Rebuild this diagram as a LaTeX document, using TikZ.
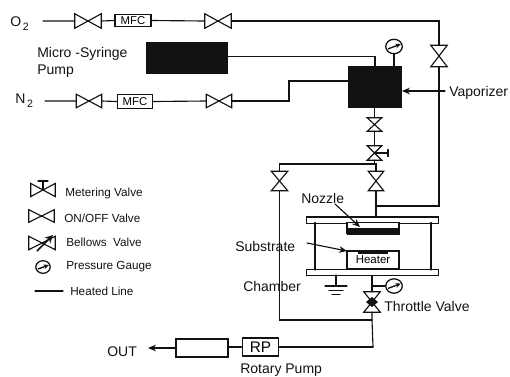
\documentclass[tikz,border=0pt]{standalone}
\usepackage{fontspec}
\setmainfont{Liberation Sans}
\usetikzlibrary{arrows.meta}
\definecolor{ink}{gray}{0.07}
\tikzset{
  line/.style={draw=ink,line width=0.85pt,line cap=round,line join=miter},
  box/.style={draw=ink,line width=0.85pt,fill=white,inner sep=0pt,anchor=center},
  solid box/.style={draw=ink,fill=ink,inner sep=0pt},
  lab/.style={text=ink,inner sep=0pt,anchor=west,font=\fontsize{10.5}{12}\selectfont},
  leg/.style={text=ink,inner sep=0pt,anchor=west,font=\fontsize{8.8}{10}\selectfont},
  tip/.style={-{Stealth[length=6pt,width=5pt]}},
}
% horizontal bow-tie valve: name, x, y, half width, half height
\newcommand{\vh}[5]{\node[inner sep=0pt,minimum width=#4*1.5pt,minimum height=#5*1.5pt] (#1) at (#2,#3) {};
  \draw[line,fill=white] (#1.north west)--(#1.south east)--(#1.north east)--(#1.south west)--cycle;}
% vertical bow-tie valve
\newcommand{\vv}[5]{\node[inner sep=0pt,minimum width=#4*1.5pt,minimum height=#5*1.5pt] (#1) at (#2,#3) {};
  \draw[line,fill=white] (#1.north west)--(#1.north east)--(#1.south west)--(#1.south east)--cycle;}
% gauge: name, x, y, radius
\newcommand{\gauge}[4]{\node[draw=ink,line width=0.95pt,ellipse,fill=white,inner sep=0pt,minimum width=#4*1.55pt,minimum height=#4*1.35pt] (#1) at (#2,#3) {};
  \draw[ink,line width=1pt,-{Stealth[length=4pt,width=3.5pt]}] (#2-#4*0.75,#3+#4*0.3) -- (#2+#4*0.85,#3-#4*0.3);}
\usetikzlibrary{shapes.geometric}
\begin{document}
\begin{tikzpicture}[x=0.75pt,y=-0.75pt]
\useasboundingbox (0,0) rectangle (510,376);
% ---- O2 line
\node[lab,anchor=west] (o2) at (10,23.5) {O\raisebox{-3pt}{\fontsize{8}{9}\selectfont\,2}};
\coordinate (o2s) at (43,21);
\vh{vo1}{88}{21}{13}{7}
\node[box,minimum width=27pt,minimum height=9.5pt,font=\fontsize{8.5}{10}\selectfont] (mfc1) at (133,20.5) {MFC};
\vh{vo2}{218}{21}{13}{7}
\coordinate (o2c) at (439,21);
\vv{vo3}{439}{56}{8}{10.5}
\coordinate (o2d) at (439,206);
\coordinate (noz) at (376,206);
\draw[line] (o2s)--(vo1.west) (vo1.east)--(mfc1.west) (mfc1.east)--(vo2.west);
\draw[line] (vo2.east)--(o2c)--(vo3.north);
\draw[line] (vo3.south)--(o2d)--(noz);
% ---- pump
\node[lab,anchor=west] (mp1) at (37,54) {Micro -Syringe};
\node[lab,anchor=west] (mp2) at (37,71) {Pump};
\node[solid box,minimum width=61pt,minimum height=23pt] (pump) at (187,57.5) {};
\node[solid box,minimum width=40pt,minimum height=30.5pt] (vap) at (375,86.5) {};
\coordinate (pc) at (375,56.5);
\draw[line] (pump.east|-pc)--(pc)--(vap.north);
\gauge{g1}{394}{46.5}{8}
\coordinate (g1b) at (394,66);
\draw[line] (g1.south)--(g1b);
% ---- N2 line
\node[lab,anchor=west] (n2) at (15,101) {N\raisebox{-3pt}{\fontsize{8}{9}\selectfont\,2}};
\coordinate (n2s) at (45,101);
\vh{vn1}{89}{101}{12.5}{6.5}
\node[box,minimum width=26pt,minimum height=10.5pt,font=\fontsize{8.5}{10}\selectfont] (mfc2) at (135,101.5) {MFC};
\vh{vn2}{219}{101}{12.5}{6.5}
\coordinate (n2a) at (289,101);
\coordinate (n2b) at (289,81);
\coordinate (n2c) at (348,81);
\draw[line] (n2s)--(vn1.west) (vn1.east)--(mfc2.west) (mfc2.east)--(vn2.west);
\draw[line] (vn2.east)--(n2a)--(n2b)--(n2c);
% ---- vaporizer label
\node[lab,anchor=west] (vlab) at (449,93) {Vaporizer};
\coordinate (varr) at (445,91);
\draw[line,tip] (varr) -- (vap.east|-varr);
% ---- column
\vv{v1}{374.5}{124.5}{7}{6.5}
\vv{v2}{374.5}{153}{7}{7}
\coordinate (v2t) at (388,153);
\draw[line] (v2.center)--(v2t);
\draw[line] (388,149.5)--(388,156.5);
\coordinate (j1) at (374.5,164);
\coordinate (j1a) at (376,164);
\coordinate (j1l) at (279.5,164);
\vv{v3}{376}{181}{7.5}{9.5}
\vv{v4}{279.5}{181}{8}{9.5}
\draw[line] (vap.south-|v1)--(v1.north);
\draw[line] (v1.south)--(v2.north);
\draw[line] (v2.south)--(j1)--(j1a)--(v3.north);
\draw[line] (j1)--(j1l)--(v4.north);
% ---- chamber
\node[box,minimum width=98.5pt,minimum height=4.6pt] (top) at (372.5,220) {};
\node[box,minimum width=98.5pt,minimum height=5pt] (bot) at (372.5,272.5) {};
\coordinate (wl1) at (315,222.5);\coordinate (wl2) at (315,270);
\coordinate (wr1) at (431,222.5);\coordinate (wr2) at (431,270);
\draw[line] (wl1)--(wl2) (wr1)--(wr2);
\draw[line] (v3.south)--(noz)--(noz|-top.north);
\node[draw=ink,line width=0.85pt,fill=white,inner sep=0pt,minimum width=39pt,minimum height=8.5pt] (nozb) at (373,228) {};
\node[solid box,minimum width=39pt,minimum height=4.5pt] (nozf) at (373,231) {};
\node[box,minimum width=39pt,minimum height=13.5pt,font=\fontsize{8.6}{10}\selectfont] (heater) at (373,260) {\raisebox{-2pt}{Heater}};
\node[solid box,minimum width=21.5pt,minimum height=2pt] (sub) at (372.5,251.5) {};
\node[lab,anchor=west] (nlab) at (301,198) {Nozzle};
\node[lab,anchor=west] (slab) at (235,246) {Substrate};
\node[lab,anchor=west] (clab) at (243,286) {Chamber};
\coordinate (na) at (335,204);
\coordinate (nb) at (360,227);
\draw[line,tip] (na)--(nb);
\coordinate (sa) at (307,243);
\coordinate (sb) at (347,251);
\draw[line,tip] (sa)--(sb);
% ---- ground
\coordinate (gs) at (336,275);
\coordinate (g0) at (336,286);
\draw[line] (gs)--(g0);
\draw[line] (325,286)--(347,286) (329,290.5)--(343,290.5) (332,294.5)--(340,294.5);
% ---- exhaust
\coordinate (e0) at (372,275.5);
\coordinate (e1) at (372,286);
\gauge{g2}{394}{286}{8}
\vv{tv}{372}{302}{8}{10}
\fill[ink] (366,302)--(372,297)--(378,302)--(372,307)--cycle;
\node[lab,anchor=west] (tlab) at (384,306) {Throttle Valve};
\coordinate (j2) at (372,320);
\coordinate (j2l) at (279.5,320);
\coordinate (e2) at (373,347);
\draw[line] (e0)--(tv.north);
\draw[line] (e1)--(g2.west);
\draw[line] (tv.south)--(j2)--(e2);
\draw[line] (j2)--(j2l)--(v4.south);
\node[box,minimum width=27.5pt,minimum height=13.5pt,font=\fontsize{11.5}{12}\selectfont] (rp) at (260.5,347) {RP};
\node[box,minimum width=39pt,minimum height=13.5pt] (trap) at (202,348) {};
\node[lab,anchor=west] (out) at (107,352) {OUT};
\coordinate (outa) at (148,348);
\draw[line] (e2)--(rp.east|-e2);
\draw[line] (rp.west)--(trap.east|-rp);
\draw[line,tip] (trap.west)--(outa);
\node[lab,anchor=west] (rlab) at (240,370) {Rotary Pump};
% ---- legend
\node[inner sep=0pt,minimum width=18pt,minimum height=9.5pt] (lm) at (43,190) {};
\draw[line,fill=white] (lm.north west)--(lm.south east)--(lm.north east)--(lm.south west)--cycle;
\coordinate (lmt) at (43,181);
\draw[line] (lm.center)--(lmt) (38,181)--(48,181);
\node[leg] (tm) at (65,193) {Metering Valve};
\vh{lo}{41.5}{216}{12.5}{6}
\node[leg] (to) at (64,218) {ON/OFF Valve};
\vh{lb}{42}{243}{13}{6.5}
\draw[ink,line width=1.3pt,-{Stealth[length=6pt,width=6pt]}] (37,251)--(53,235);
\node[leg] (tb) at (66,242.5) {Bellows\ \ Valve};
\gauge{lg}{43}{267}{7}
\node[leg] (tg) at (66,266.5) {Pressure Gauge};
\coordinate (ll1) at (35,291);\coordinate (ll2) at (63,291);
\draw[line] (ll1)--(ll2);
\node[leg] (tl) at (70,291) {Heated Line};
\end{tikzpicture}
\end{document}
